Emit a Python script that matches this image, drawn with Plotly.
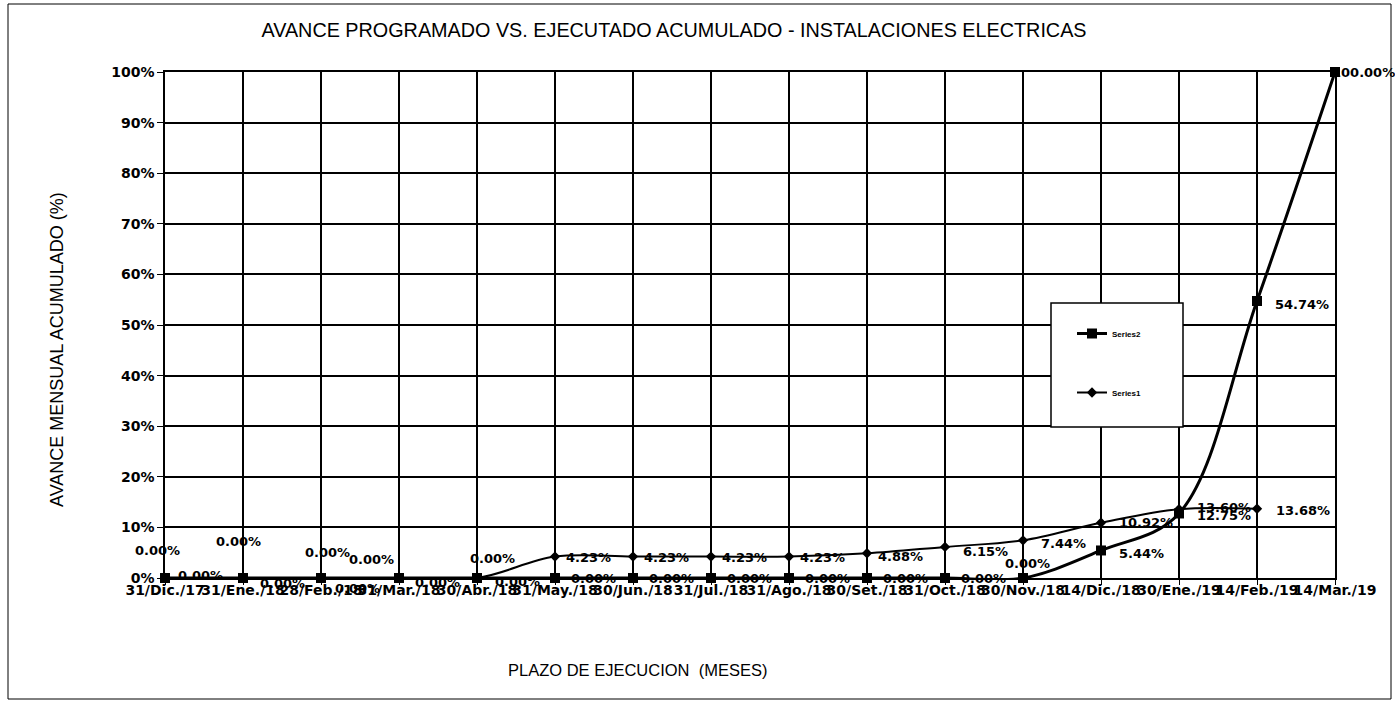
import plotly.graph_objects as go

# ---------------- data ----------------
categories = ["31/Dic./17", "31/Ene./18", "28/Feb./18", "31/Mar./18", "30/Abr./18",
              "31/May./18", "30/Jun./18", "31/Jul./18", "31/Ago./18", "30/Set./18",
              "31/Oct./18", "30/Nov./18", "14/Dic./18", "30/Ene./19", "14/Feb./19",
              "14/Mar./19"]
series1 = [0.00, 0.00, 0.00, 0.00, 0.00, 4.23, 4.23, 4.23, 4.23, 4.88,
           6.15, 7.44, 10.92, 13.60, 13.68, None]
series2 = [0.00, 0.00, 0.00, 0.00, 0.00, 0.00, 0.00, 0.00, 0.00, 0.00,
           0.00, 0.00, 5.44, 12.75, 54.74, 100.00]
y_ticks = [0, 10, 20, 30, 40, 50, 60, 70, 80, 90, 100]

title_text = "AVANCE PROGRAMADO VS. EJECUTADO ACUMULADO - INSTALACIONES ELECTRICAS"
x_title = "PLAZO DE EJECUCION  (MESES)"
y_title = "AVANCE MENSUAL ACUMULADO (%)"

# ---------------- style / layout ----------------
FONT = "Liberation Sans, Arial, sans-serif"
BFONT = "DejaVu Sans, Verdana, sans-serif"
W, H = 1395, 702
PL, PR, PT, PB = 165, 1335, 72, 578   # plot area in pixels


def px_x(p):
    return (p - PL) / (PR - PL)


def px_y(p):
    return (PB - p) / (PB - PT)


label_font = dict(family=BFONT, size=13, color="black", weight="bold")

# label centre offsets (pixels, +y = up) relative to each point
s1_offsets = [(-8, 28), (-5, 37), (6, 26), (-28, 19), (15, 20),
              (33, -1), (33, -1), (33, -1), (33, -1), (33, -3),
              (40, -5), (40, -3), (45, 0), (45, 2), (46, -2), (0, 0)]
s2_offsets = [(35, 3), (39, -5), (36, -10), (38, -4), (40, -3),
              (38, 0), (38, 0), (38, 0), (38, 0), (38, 0),
              (38, 0), (4, 15), (40, -3), (45, -2), (45, -3), (28, 0)]

fig = go.Figure()

fig.add_trace(go.Scatter(
    x=categories, y=series1, name="Series1", mode="lines+markers",
    line=dict(color="black", width=2, shape="spline"),
    marker=dict(symbol="diamond", size=8, color="black"),
    legendgroup="s1", legendrank=2, cliponaxis=False, connectgaps=False,
))
fig.add_trace(go.Scatter(
    x=categories, y=series2, name="Series2", mode="lines+markers",
    line=dict(color="black", width=3, shape="spline"),
    marker=dict(symbol="square", size=10, color="black"),
    legendgroup="s2", legendrank=1, cliponaxis=False,
))

annotations = []
for i, v in enumerate(series1):
    if v is None:
        continue
    dx, dy = s1_offsets[i]
    annotations.append(dict(x=i, y=v, xref="x", yref="y", text=f"{v:.2f}%",
                            showarrow=False, xshift=dx, yshift=dy,
                            xanchor="center", yanchor="middle", font=label_font))
for i, v in enumerate(series2):
    dx, dy = s2_offsets[i]
    annotations.append(dict(x=i, y=v, xref="x", yref="y", text=f"{v:.2f}%",
                            showarrow=False, xshift=dx, yshift=dy,
                            xanchor="center", yanchor="middle", font=label_font))

# axis titles
annotations.append(dict(x=px_x(637), y=px_y(670), xref="paper", yref="paper",
                        text=x_title, showarrow=False, xanchor="center", yanchor="middle",
                        font=dict(family=FONT, size=16.5, color="black")))
annotations.append(dict(x=px_x(57), y=px_y(350), xref="paper", yref="paper",
                        text=y_title, showarrow=False, textangle=-90,
                        xanchor="center", yanchor="middle",
                        font=dict(family=FONT, size=18, color="black")))

shapes = [
    # outer chart frame
    dict(type="rect", xref="paper", yref="paper",
         x0=px_x(8), x1=px_x(1391), y0=px_y(699), y1=px_y(4),
         line=dict(color="black", width=1), fillcolor="rgba(0,0,0,0)", layer="below"),
    # legend frame
    dict(type="rect", xref="paper", yref="paper",
         x0=px_x(1051), x1=px_x(1183), y0=px_y(427), y1=px_y(303),
         line=dict(color="black", width=1.5), fillcolor="white", layer="above"),
]

fig.update_layout(
    template="none",
    width=W, height=H, autosize=False,
    margin=dict(l=PL, r=W - PR, t=PT, b=H - PB, pad=0),
    paper_bgcolor="white", plot_bgcolor="white",
    font=dict(family=FONT, color="black"),
    title=dict(text=title_text, x=px_x(674), xref="paper", xanchor="center",
               y=1 - 30 / H, yref="container", yanchor="middle",
               font=dict(family=FONT, size=19.8, color="black")),
    showlegend=True,
    legend=dict(x=px_x(1072), y=px_y(319), xanchor="left", yanchor="top",
                bgcolor="rgba(0,0,0,0)", borderwidth=0,
                traceorder="grouped", tracegroupgap=40,
                font=dict(family=FONT, size=8, color="black", weight="bold"),
                itemwidth=30),
    annotations=annotations,
    shapes=shapes,
)

fig.update_xaxes(
    type="category", range=[0, len(categories) - 1],
    tickmode="array", tickvals=categories, ticktext=categories, tickangle=0,
    showgrid=True, gridcolor="black", gridwidth=1.5,
    showline=True, linecolor="black", linewidth=1.5, mirror=True,
    ticks="outside", ticklen=5, tickcolor="black", ticklabelstandoff=-7,
    tickfont=dict(family=BFONT, size=14, color="black", weight="bold"),
    automargin=False, zeroline=False,
)
fig.update_yaxes(
    range=[0, 100], tickmode="array", tickvals=y_ticks,
    ticktext=[f"{t}%" for t in y_ticks],
    showgrid=True, gridcolor="black", gridwidth=1.5,
    showline=True, linecolor="black", linewidth=1.5, mirror=True,
    ticks="outside", ticklen=6, tickcolor="black",
    tickfont=dict(family=BFONT, size=14, color="black", weight="bold"),
    automargin=False, zeroline=False,
)

fig.write_html("out.html",
               config={"displayModeBar": False},
               post_script="document.body.style.margin='0';"
                           "document.body.style.overflow='hidden';")
